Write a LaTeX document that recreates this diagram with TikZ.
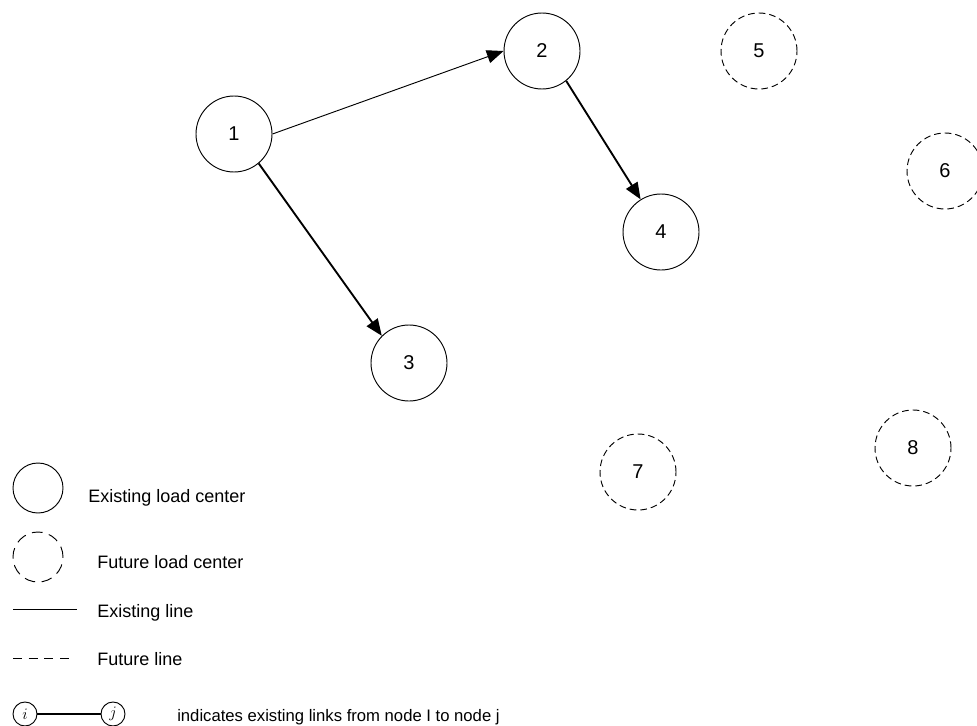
\documentclass[tikz,border=0pt]{standalone}
\usepackage{fontspec}
\setmainfont{Liberation Sans}
\usetikzlibrary{arrows.meta,positioning}

\begin{document}
\begin{tikzpicture}[
    x=0.75pt,
    y=-0.75pt,
    existing/.style={
        circle,
        draw,
        line width=0.7pt,
        inner sep=0pt,
        minimum size=57pt,
        font=\fontsize{15}{17}\selectfont
    },
    future/.style={
        existing,
        dash pattern=on 5pt off 3pt
    },
    arrow/.style={
        -{Triangle[length=12.5pt,width=10pt]}
    },
    thickline/.style={
        line width=1.4pt
    },
    legtext/.style={
        anchor=base west,
        inner sep=0pt,
        font=\fontsize{13.5}{15}\selectfont
    }
]
\useasboundingbox (0,0) rectangle (977,725);

% load centers
\node[existing] (lc1) at (234,134) {1};
\node[existing] (lc2) at (542,51) {2};
\node[existing] (lc3) at (409,363) {3};
\node[existing] (lc4) at (661,232) {4};
\node[future] (lc5) at (759,51) {5};
\node[future] (lc6) at (945,171) {6};
\node[future] (lc7) at (638,472) {7};
\node[future] (lc8) at (913,448) {8};

% existing lines
\draw[arrow, line width=0.7pt] (lc1.east) -- (lc2.west);
\draw[arrow, thickline] (lc1.-50) -- (lc3.135);
\draw[arrow, thickline] (lc2.-51) -- (lc4.122);

% legend
\node[existing, minimum size=37.5pt] (legexist) at (38,488) {};
\node[legtext] at (88,502) {Existing load center};

\node[existing, minimum size=37.5pt, dash pattern=on 8pt off 5pt] (legfuture) at (38,557) {};
\node[legtext] at (97,568) {Future load center};

\coordinate (exa) at (13,609);
\coordinate (exb) at (77,609);
\draw[line width=0.7pt] (exa) -- (exb);
\node[legtext] at (97,617) {Existing line};

\coordinate (fua) at (13,658);
\coordinate (fub) at (70,658);
\draw[line width=0.7pt, dash pattern=on 6.75pt off 5pt] (fua) -- (fub);
\node[legtext] at (97,665) {Future line};

\node[existing, minimum size=18pt, font=\fontsize{13}{15}\selectfont] (legi) at (25,714) {$i$};
\node[existing, minimum size=18pt, font=\fontsize{13}{15}\selectfont] (legj) at (113,714) {$j$};
\draw[thickline] (legi) -- (legj);
\node[legtext, font=\fontsize{12.5}{14}\selectfont] at (177,721) {indicates existing links from node I to node j};

\end{tikzpicture}
\end{document}
